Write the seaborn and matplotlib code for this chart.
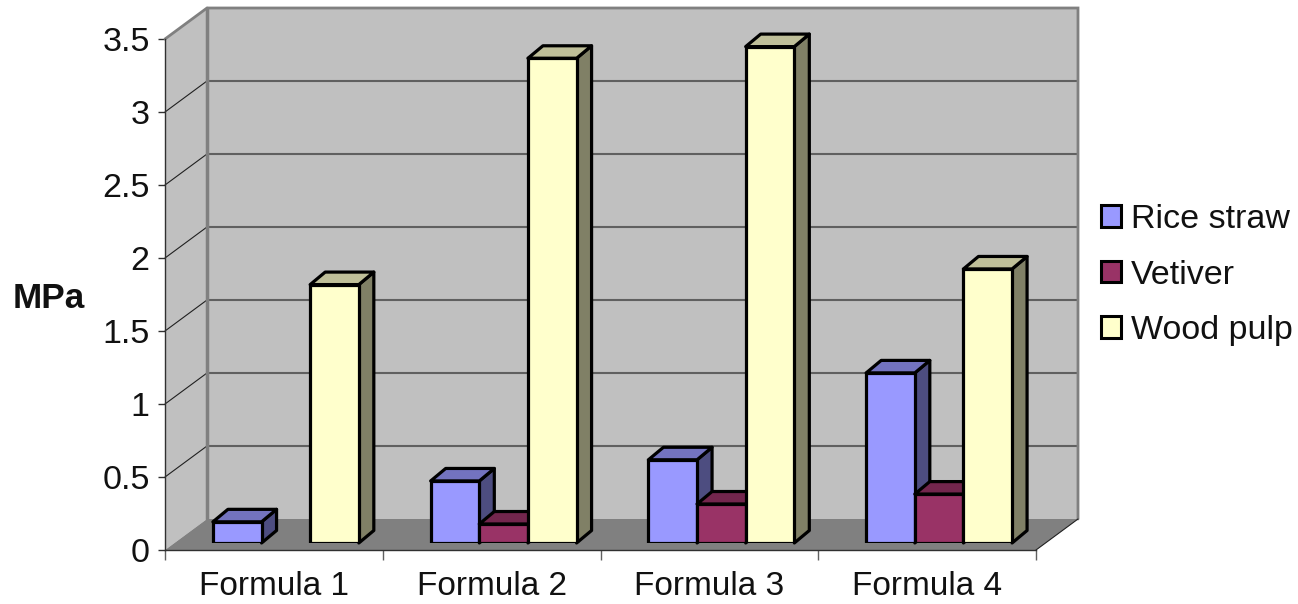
import numpy as np
import pandas as pd
import matplotlib.pyplot as plt
import seaborn as sns
from matplotlib.patches import Patch, Polygon
from matplotlib.transforms import IdentityTransform

# Values
formulas = ["Formula 1", "Formula 2", "Formula 3", "Formula 4"]
rice_straw = [0.145, 0.425, 0.57, 1.165]
vetiver = [np.nan, 0.13, 0.267, 0.335]
wood_pulp = [1.77, 3.32, 3.40, 1.877]
y_ticks = [0, 0.5, 1, 1.5, 2, 2.5, 3, 3.5]
y_tick_labels = ["0", "0.5", "1", "1.5", "2", "2.5", "3", "3.5"]
series_names = ["Rice straw", "Vetiver", "Wood pulp"]
series_colors = ["#9999FF", "#993366", "#FFFFCC"]

W, H = 1298, 604
FONT_SIZE = 24.5

sns.set_theme(style="white", font="Liberation Sans")
plt.rcParams["savefig.dpi"] = 100

df = pd.DataFrame({"formula": formulas, "Rice straw": rice_straw,
                   "Vetiver": vetiver, "Wood pulp": wood_pulp})
df = df.melt(id_vars="formula", var_name="series", value_name="mpa")

fig = plt.figure(figsize=(W / 100, H / 100), dpi=100)


def add_axes_px(left, right, top, bottom):
    return fig.add_axes([left / W, (H - bottom) / H, (right - left) / W, (bottom - top) / H])


# Front plane of the box, carries the ticks and the walls
ax = add_axes_px(165, 1036, 39, 550)
ax.set_xlim(-0.5, 3.5)
ax.set_ylim(0, 3.5)
ax.patch.set_visible(False)
ax.set_zorder(1)

# Bars sit a little further into the box, so their axes is shifted
bars_ax = add_axes_px(177, 1048, 32, 543)
bars_ax.set_zorder(2)

sns.barplot(data=df, x="formula", y="mpa", hue="series", hue_order=series_names,
            palette=series_colors, saturation=1, width=0.67, gap=0, legend=False,
            edgecolor="black", linewidth=2.3, ax=bars_ax)
bars_ax.set_xlim(-0.5, 3.5)
bars_ax.set_ylim(0, 3.5)
bars_ax.axis("off")

# Box walls
px = IdentityTransform()
dx, dy = 42, 31
x0, y0 = ax.transData.transform((-0.5, 0))
x1, y1 = ax.transData.transform((3.5, 3.5))


def wall(points, **kw):
    ax.add_patch(Polygon(points, closed=True, transform=px, clip_on=False, **kw))


wall([(x0 + dx, y0 + dy), (x1 + dx, y0 + dy), (x1 + dx, y1 + dy), (x0 + dx, y1 + dy)],
     facecolor="#C0C0C0", edgecolor="none", zorder=1)
wall([(x0, y0), (x0 + dx, y0 + dy), (x0 + dx, y1 + dy), (x0, y1)],
     facecolor="#C0C0C0", edgecolor="none", zorder=1)
wall([(x0, y0), (x1, y0), (x1 + dx, y0 + dy), (x0 + dx, y0 + dy)],
     facecolor="#808080", edgecolor="none", zorder=2)

# Gridlines run along the side wall then along the back wall
for tick in y_ticks[1:-1]:
    yt = ax.transData.transform((0, tick))[1]
    ax.plot([x0, x0 + dx], [yt, yt + dy], color="#202020", lw=0.8, transform=px,
            clip_on=False, zorder=3)
    ax.plot([x0 + dx, x1 + dx], [yt + dy, yt + dy], color="#606060", lw=1.5, transform=px,
            clip_on=False, zorder=3)

# Wall outlines
ax.plot([x0, x0 + dx, x1 + dx, x1 + dx], [y1, y1 + dy, y1 + dy, y0 + dy], color="#808080",
        lw=2, transform=px, clip_on=False, zorder=4, solid_joinstyle="miter")
ax.plot([x0 + dx, x0 + dx], [y0 + dy, y1 + dy], color="#808080", lw=2.5, transform=px,
        clip_on=False, zorder=4)
ax.plot([x1, x1 + dx], [y0, y0 + dy], color="#202020", lw=0.8, transform=px, clip_on=False,
        zorder=4)

# Top and side faces worked out from each bar the library drew
depth_x, depth_y = 15, 12.5
patches = [p for p in bars_ax.patches if p.get_height() > 0]
patches.sort(key=lambda p: p.get_x())
for i, bar in enumerate(patches):
    box = bar.get_window_extent()
    r, g, b, _ = bar.get_facecolor()
    z = 5 + i
    bar.set_zorder(z + 0.5)
    side = [(box.x1, box.y0), (box.x1 + depth_x, box.y0 + depth_y),
            (box.x1 + depth_x, box.y1 + depth_y), (box.x1, box.y1)]
    top = [(box.x0, box.y1), (box.x0 + depth_x, box.y1 + depth_y),
           (box.x1 + depth_x, box.y1 + depth_y), (box.x1, box.y1)]
    for points, shade in ((side, 0.5), (top, 0.75)):
        bars_ax.add_patch(Polygon(points, closed=True, transform=px, clip_on=False, zorder=z,
                                  facecolor=(r * shade, g * shade, b * shade),
                                  edgecolor="black", linewidth=2.3, joinstyle="round"))

# Axis lines, ticks and labels
sns.despine(ax=ax, top=True, right=True)
for side_name in ("left", "bottom"):
    ax.spines[side_name].set_color("#303030")
    ax.spines[side_name].set_linewidth(1.0)
    ax.spines[side_name].set_zorder(6)

ax.set_yticks(y_ticks, y_tick_labels, fontsize=FONT_SIZE, color="#111111")
ax.set_xticks(np.arange(-0.5, 4, 1), [""] * 5)
ax.set_xticks(range(len(formulas)), formulas, minor=True, fontsize=24, color="#111111")
ax.tick_params(axis="y", which="major", left=True, length=5, width=1, color="#303030", pad=6)
ax.tick_params(axis="x", which="major", bottom=True, length=7, width=1, color="#606060")
ax.tick_params(axis="x", which="minor", bottom=False, length=0, pad=15)
ax.set_xlabel("")
ax.set_ylabel("MPa", rotation=0, fontsize=25.3, fontweight="bold", color="#111111",
              ha="center", va="center")
ax.yaxis.set_label_coords((49 - 165) / 871, (550 - 298) / 511)

# Legend
handles = [Patch(facecolor=c, edgecolor="black", linewidth=2.2, label=n)
           for n, c in zip(series_names, series_colors)]
fig.legend(handles=handles, loc="center left", bbox_to_anchor=(1101 / W, (H - 275) / H),
           frameon=False, fontsize=FONT_SIZE, handlelength=0.58, handleheight=0.58,
           handletextpad=0.3, labelspacing=0.72, labelcolor="#111111", borderpad=0,
           borderaxespad=0)

fig.savefig("out.png", dpi=100)
